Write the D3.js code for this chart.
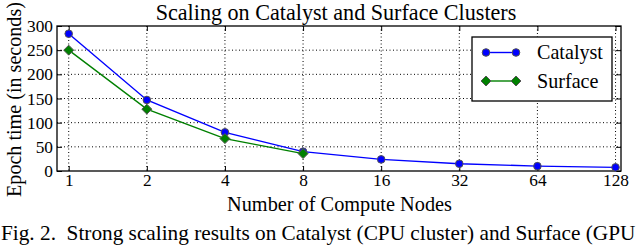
<!DOCTYPE html>
<html>
<head>
<meta charset="utf-8">
<script src="https://cdn.jsdelivr.net/npm/d3@7"></script>
<style>
  body { margin: 0; background: #fff; overflow: hidden; }
  svg text { font-family: "Liberation Serif", "DejaVu Serif", serif; fill: #000; }
</style>
</head>
<body>
<div id="chart"></div>
<script>
// data
const nodes = [1, 2, 4, 8, 16, 32, 64, 128];
const catalyst = [284, 147, 80, 40, 24, 15, 10, 7.5];
const surfaceNodes = [1, 2, 4, 8];
const surface = [250, 128, 67, 36];
const yTicks = [0, 50, 100, 150, 200, 250, 300];

const W = 640, H = 246;
const mLeft = 57, mRight = 621, mTop = 26, mBottom = 171;

const svg = d3.select("#chart").append("svg")
  .attr("width", W).attr("height", H);

// font size that makes a string come out at a given width
function sizeFor(str, width) {
  const t = svg.append("text").style("font-size", "20px").style("white-space", "pre").text(str);
  const w = t.node().getComputedTextLength();
  t.remove();
  return 20 * width / w;
}

const x = d3.scaleLog().base(2)
  .domain([Math.pow(2, -0.15), Math.pow(2, 7.07)])
  .range([mLeft, mRight]);
const y = d3.scaleLinear().domain([0, 300]).range([mBottom, mTop]);

// grid
svg.append("g").selectAll("line")
  .data(nodes).enter().append("line")
  .attr("x1", d => x(d)).attr("x2", d => x(d))
  .attr("y1", mTop).attr("y2", mBottom)
  .attr("stroke", "#000").attr("stroke-width", 1)
  .attr("stroke-dasharray", "1,2.5");
svg.append("g").selectAll("line")
  .data(yTicks.slice(1, -1)).enter().append("line")
  .attr("x1", mLeft).attr("x2", mRight)
  .attr("y1", d => y(d)).attr("y2", d => y(d))
  .attr("stroke", "#000").attr("stroke-width", 1)
  .attr("stroke-dasharray", "1,2.5");

// axes (ticks pointing inward, on all four sides)
const tickFs = sizeFor("300", 26) + "px";
const xAxis = svg.append("g").attr("transform", `translate(0,${mBottom})`)
  .call(d3.axisBottom(x).tickValues(nodes).tickFormat(d3.format("d"))
    .tickSizeInner(-5).tickSizeOuter(0).tickPadding(3));
const yAxis = svg.append("g").attr("transform", `translate(${mLeft},0)`)
  .call(d3.axisLeft(y).tickValues(yTicks)
    .tickSizeInner(-5).tickSizeOuter(0).tickPadding(4));
const xTop = svg.append("g").attr("transform", `translate(0,${mTop})`)
  .call(d3.axisTop(x).tickValues(nodes).tickFormat("")
    .tickSizeInner(-5).tickSizeOuter(0));
const yRight = svg.append("g").attr("transform", `translate(${mRight},0)`)
  .call(d3.axisRight(y).tickValues(yTicks).tickFormat("")
    .tickSizeInner(-5).tickSizeOuter(0));
[xAxis, yAxis, xTop, yRight].forEach(g => {
  g.select(".domain").remove();
  g.selectAll("line").attr("stroke", "#000");
  g.selectAll("text").style("font-size", tickFs)
    .style("font-family", "'Liberation Serif', serif");
});

// frame
svg.append("rect")
  .attr("x", mLeft).attr("y", mTop)
  .attr("width", mRight - mLeft).attr("height", mBottom - mTop)
  .attr("fill", "none").attr("stroke", "#000").attr("stroke-width", 1.3);

// series
const line = d3.line().x(d => x(d[0])).y(d => y(d[1]));
const catPts = nodes.map((n, i) => [n, catalyst[i]]);
const surPts = surfaceNodes.map((n, i) => [n, surface[i]]);

svg.append("path").datum(catPts)
  .attr("d", line).attr("fill", "none")
  .attr("stroke", "#0000ff").attr("stroke-width", 1.4);
svg.append("path").datum(surPts)
  .attr("d", line).attr("fill", "none")
  .attr("stroke", "#008000").attr("stroke-width", 1.4);

function diamondPath(s) {
  return `M0,${-s}L${s},0L0,${s}L${-s},0Z`;
}

svg.append("g").selectAll("circle")
  .data(catPts).enter().append("circle")
  .attr("cx", d => x(d[0])).attr("cy", d => y(d[1])).attr("r", 3.8)
  .attr("fill", "#0000ff").attr("stroke", "#555").attr("stroke-width", 1);
svg.append("g").selectAll("path")
  .data(surPts).enter().append("path")
  .attr("d", diamondPath(5))
  .attr("transform", d => `translate(${x(d[0])},${y(d[1])})`)
  .attr("fill", "#008000").attr("stroke", "#555").attr("stroke-width", 1);

// legend
const lg = svg.append("g");
lg.append("rect").attr("x", 472).attr("y", 37).attr("width", 140).attr("height", 64)
  .attr("fill", "#fff").attr("stroke", "#000").attr("stroke-width", 1.3);
const legendItems = [
  { name: "Catalyst", color: "#0000ff", mark: "circle", y: 52.5 },
  { name: "Surface", color: "#008000", mark: "diamond", y: 81 }
];
const legFs = sizeFor("Catalyst", 66) + "px";
legendItems.forEach(it => {
  lg.append("line").attr("x1", 486).attr("x2", 516)
    .attr("y1", it.y).attr("y2", it.y)
    .attr("stroke", it.color).attr("stroke-width", 1.4);
  [486, 516].forEach(px => {
    if (it.mark === "circle") {
      lg.append("circle").attr("cx", px).attr("cy", it.y).attr("r", 3.8)
        .attr("fill", it.color).attr("stroke", "#555");
    } else {
      lg.append("path").attr("d", diamondPath(5))
        .attr("transform", `translate(${px},${it.y})`)
        .attr("fill", it.color).attr("stroke", "#555");
    }
  });
  lg.append("text").attr("x", 537).attr("y", it.y + 6.5)
    .style("font-size", legFs).text(it.name);
});

// titles
const title = "Scaling on Catalyst and Surface Clusters";
svg.append("text").attr("x", 336).attr("y", 20)
  .attr("text-anchor", "middle").style("font-size", sizeFor(title, 361) + "px")
  .text(title);
const xLabel = "Number of Compute Nodes";
svg.append("text").attr("x", 339.5).attr("y", 211)
  .attr("text-anchor", "middle").style("font-size", sizeFor(xLabel, 225) + "px")
  .text(xLabel);
const yLabel = "Epoch time (in seconds)";
svg.append("text")
  .attr("transform", `translate(21,99.5) rotate(-90)`)
  .attr("text-anchor", "middle").style("font-size", sizeFor(yLabel, 195) + "px")
  .text(yLabel);
// the figure is cropped mid-sentence, so only the visible part is kept
const caption = "Fig. 2.  Strong scaling results on Catalyst (CPU cluster) and Surface (GPU";
svg.append("text").attr("x", 1).attr("y", 240)
  .style("font-size", sizeFor(caption, 635) + "px")
  .style("white-space", "pre")
  .text(caption);
</script>
</body>
</html>
